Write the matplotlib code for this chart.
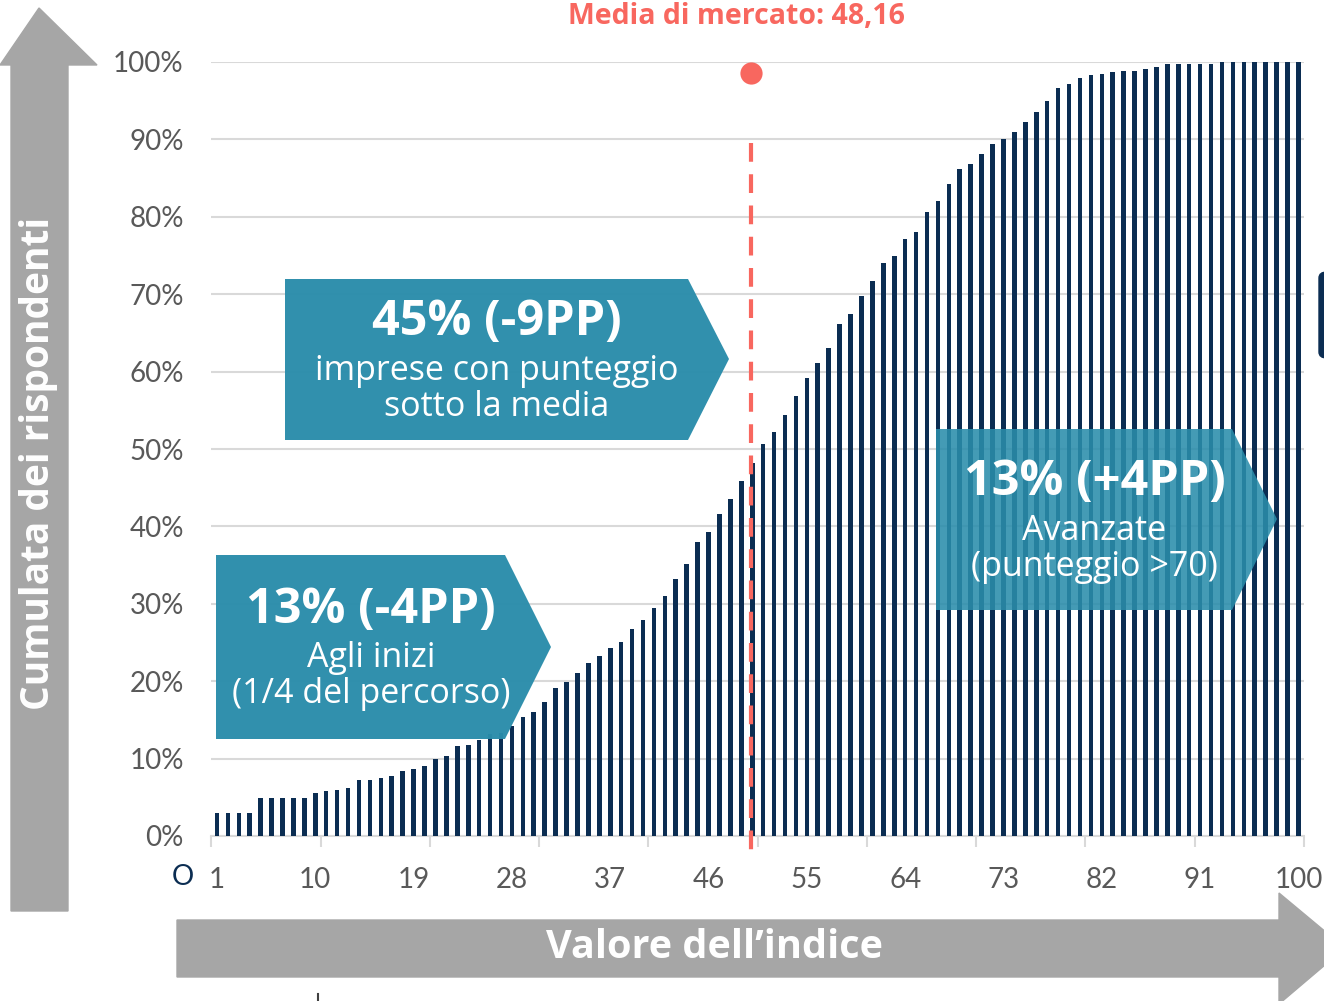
import numpy as np
import matplotlib
import matplotlib.pyplot as plt
from matplotlib.patches import Polygon, FancyBboxPatch

matplotlib.use('Agg')

# cumulative share of respondents per index value
indice = list(range(1, 101))
cumulata = [3.0, 3.0, 3.0, 3.0, 4.9, 4.9, 4.9, 4.9, 4.9, 5.6,
            5.8, 6.0, 6.2, 7.2, 7.2, 7.5, 7.75, 8.4, 8.7, 9.1,
            9.9, 10.4, 11.6, 11.8, 12.4, 13.2, 13.35, 14.2, 15.4, 16.0,
            17.35, 19.1, 19.85, 21.0, 22.4, 23.3, 24.25, 25.1, 26.8, 27.95,
            29.5, 31.05, 33.2, 35.1, 38.0, 39.3, 41.65, 43.5, 45.9, 48.2,
            50.7, 52.2, 54.35, 56.85, 59.2, 61.1, 63.0, 66.1, 67.4, 69.8,
            71.7, 74.0, 75.0, 77.1, 78.0, 80.6, 82.1, 84.2, 86.2, 86.8,
            88.1, 89.4, 90.0, 90.95, 92.3, 93.5, 94.9, 96.7, 97.1, 97.9,
            98.3, 98.45, 98.7, 98.8, 98.8, 99.15, 99.4, 99.8, 99.8, 99.8,
            99.8, 99.8, 100, 100, 100, 100, 100, 100, 100, 100]
xlabels = [1, 10, 19, 28, 37, 46, 55, 64, 73, 82, 91, 100]
yticks = list(range(0, 101, 10))
media = 48.16
media_x = 49.9      # where the marker sits on the category axis
media_dot = 98.6

box_txt = [('45% (-9PP)', 'imprese con punteggio\nsotto la media'),
           ('13% (-4PP)', 'Agli inizi\n(1/4 del percorso)'),
           ('13% (+4PP)', 'Avanzate\n(punteggio >70)')]

W, H = 1324, 1001
navy = '#0b2d52'
teal = '#2a8dab'
red = '#f8675f'
grey = '#595959'
arrow_grey = '#a6a6a6'
tick_font = 'Lato'
box_font = 'Open Sans'


def fx(x):
    return x / W


def fy(y):
    return 1 - y / H


fig = plt.figure(figsize=(W / 100, H / 100), dpi=100)
ax = fig.add_axes([fx(211.5), fy(836), (1303.9 - 211.5) / W, (836 - 62) / H])

ax.bar(indice, cumulata, width=0.42, color=navy, zorder=3)
ax.set_xlim(0.5, 100.5)
ax.set_ylim(0, 100)
ax.set_yticks(yticks, labels=[f'{v}%' for v in yticks])
ax.set_xticks(xlabels, labels=[str(v) for v in xlabels])
ax.set_xticks(np.arange(0.5, 101, 10), minor=True)
ax.tick_params(axis='x', which='major', length=0, pad=22, labelsize=20, labelcolor=grey)
ax.tick_params(axis='x', which='minor', length=8, width=1.5, color='#d9d9d9')
ax.tick_params(axis='y', length=0, pad=20, labelsize=20, labelcolor=grey)
for lb in ax.get_xticklabels() + ax.get_yticklabels():
    lb.set_fontfamily(tick_font)
ax.grid(axis='y', color='#d9d9d9', lw=1.5, zorder=0)
for s in ['top', 'right', 'left']:
    ax.spines[s].set_visible(False)
ax.spines['bottom'].set_color('#d9d9d9')
ax.spines['bottom'].set_linewidth(1.5)

# market average
ax.plot([media_x, media_x], [89.5, -1.8], color=red, lw=3, dashes=(4.5, 3),
        zorder=4, clip_on=False)
ax.plot([media_x], [media_dot], 'o', color=red, ms=16, mec='none', zorder=5, clip_on=False)
fig.text(fx(736), fy(16), f'Media di mercato: {media:.2f}'.replace('.', ','),
         color=red, fontsize=20.5, fontweight='bold', family=box_font, ha='center', va='center')

fig.text(fx(183), fy(877), 'O', color=navy, fontsize=20, family=tick_font,
         ha='center', va='center')

# arrows
fig.patches.append(Polygon([(fx(11), fy(911)), (fx(11), fy(65)), (fx(0), fy(65)), (fx(39), fy(8)),
                            (fx(97), fy(65)), (fx(68), fy(65)), (fx(68), fy(911))],
                           closed=True, transform=fig.transFigure, color=arrow_grey, zorder=1))
fig.text(fx(39), fy(463), 'Cumulata dei rispondenti', rotation=90, color='white',
         fontsize=28, fontweight='bold', family=box_font, ha='center', va='center')
fig.patches.append(Polygon([(fx(177), fy(920)), (fx(1279), fy(920)), (fx(1279), fy(893)),
                            (fx(1345), fy(948)), (fx(1279), fy(1004)), (fx(1279), fy(977)),
                            (fx(177), fy(977))],
                           closed=True, transform=fig.transFigure, color=arrow_grey, zorder=1))
fig.text(fx(715), fy(947), 'Valore dell\u2019indice', color='white', fontsize=28.5,
         fontweight='bold', family=box_font, ha='center', va='center')

# callout boxes: left, top, bottom, straight right edge, tip x, tip y, alpha, title y, text y
boxes = [(285, 279, 440, 688, 729, 359, 0.97, 322, 389),
         (216, 555, 739, 505, 551, 647, 0.97, 610, 676),
         (936, 429, 610, 1232, 1277, 519, 0.88, 483, 549)]
for (l, t, b, r, tx, ty, a, y1, y2), (big, small) in zip(boxes, box_txt):
    fig.patches.append(Polygon([(fx(l), fy(t)), (fx(r), fy(t)), (fx(tx), fy(ty)),
                                (fx(r), fy(b)), (fx(l), fy(b))],
                               closed=True, transform=fig.transFigure, color=teal,
                               alpha=a, lw=0, zorder=6))
    cx = (l + r) / 2 + 10.5
    fig.text(fx(cx), fy(y1), big, color='white', fontsize=35, fontweight='bold',
             family=box_font, ha='center', va='center', zorder=7)
    fig.text(fx(cx), fy(y2), small, color='white', fontsize=24.5,
             family=box_font, ha='center', va='center', linespacing=1.05, zorder=7)

# bits cut off at the edges
fig.patches.append(FancyBboxPatch((fx(1319), fy(358)), fx(20), fy(272) - fy(358),
                                  boxstyle='round,pad=0,rounding_size=0.006',
                                  transform=fig.transFigure, color=navy, zorder=1))
fig.lines.append(plt.Line2D([fx(318), fx(318)], [fy(994), fy(1001)], transform=fig.transFigure,
                            color='#404040', lw=1.5))

fig.savefig('out.png', dpi=100)
